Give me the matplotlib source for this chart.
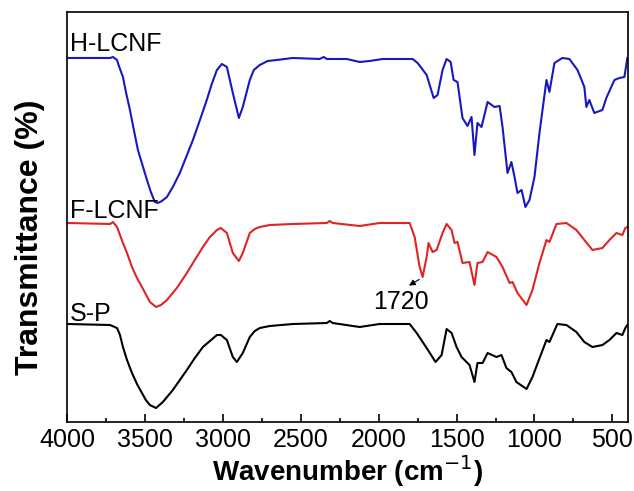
' FTIR spectra of S-P, F-LCNF and H-LCNF, stacked with offsets '
import matplotlib
matplotlib.use('Agg')
import matplotlib.pyplot as plt
from matplotlib.ticker import MultipleLocator

plt.rcParams['font.family'] = ['Liberation Sans', 'DejaVu Sans']

# wavenumber (cm-1) and transmittance (a.u., offset per curve)
wn_h = [3994, 3724, 3705, 3679, 3667, 3641, 3622, 3596, 3571, 3545, 3487, 3462, 3436, 3417,
        3391, 3359, 3321, 3276, 3192, 3147, 3103, 3071, 3038, 3006, 2974, 2936, 2897, 2872,
        2827, 2801, 2763, 2712, 2654, 2551, 2378, 2353, 2333, 2205, 2122, 2058, 1974, 1782,
        1750, 1692, 1647, 1622, 1590, 1564, 1538, 1519, 1494, 1462, 1430, 1404, 1385, 1366,
        1340, 1301, 1257, 1224, 1205, 1173, 1148, 1128, 1109, 1083, 1058, 1032, 1000, 968,
        923, 904, 872, 821, 776, 724, 680, 667, 648, 616, 564, 539, 487, 455, 423, 404]
t_h = [364, 364, 365, 362, 356, 345, 330, 312, 292, 272, 242, 230, 220, 219,
       221, 225, 235, 249, 282, 302, 322, 338, 352, 358, 355, 329, 304, 315,
       342, 352, 357, 361, 362, 364, 363, 365, 363, 363, 360, 361, 363, 363,
       359, 347, 324, 327, 352, 363, 360, 342, 340, 304, 296, 305, 267, 299,
       295, 320, 315, 316, 295, 249, 260, 245, 229, 232, 215, 222, 245, 289,
       342, 330, 359, 364, 363, 352, 335, 315, 322, 309, 312, 324, 342, 344, 345, 364]

wn_f = [3994, 3724, 3705, 3679, 3667, 3641, 3615, 3583, 3551, 3519, 3468, 3429, 3397, 3359,
        3295, 3231, 3180, 3128, 3083, 3038, 3013, 2974, 2936, 2897, 2872, 2827, 2795, 2763,
        2699, 2551, 2333, 2314, 2295, 2122, 1994, 1801, 1769, 1737, 1718, 1692, 1680, 1654,
        1628, 1590, 1564, 1532, 1513, 1494, 1462, 1417, 1385, 1366, 1333, 1301, 1244, 1205,
        1160, 1141, 1109, 1051, 1013, 968, 923, 904, 859, 795, 731, 680, 628, 564, 519, 474,
        436, 417, 404]
t_f = [199, 198, 200, 195, 190, 179, 169, 155, 144, 135, 120, 115, 117, 122,
       134, 149, 162, 175, 185, 192, 194, 189, 169, 161, 169, 189, 193, 195,
       197, 198, 199, 201, 199, 196, 199, 199, 185, 155, 145, 165, 179, 170,
       172, 189, 198, 192, 179, 180, 159, 160, 137, 159, 160, 170, 165, 155,
       139, 140, 129, 117, 132, 159, 182, 180, 198, 199, 192, 182, 172, 174, 182, 189,
       187, 194, 195]

wn_s = [3994, 3724, 3679, 3660, 3641, 3615, 3583, 3551, 3519, 3494, 3468, 3429, 3385, 3321,
        3231, 3180, 3128, 3083, 3038, 3013, 2974, 2936, 2910, 2872, 2827, 2795, 2763, 2699,
        2551, 2333, 2314, 2295, 2122, 1994, 1801, 1756, 1692, 1635, 1596, 1564, 1532, 1500,
        1468, 1417, 1385, 1366, 1333, 1301, 1244, 1212, 1180, 1148, 1116, 1051, 1013, 955,
        923, 904, 853, 795, 731, 680, 628, 564, 519, 474, 436, 417, 404]
t_s = [98, 97, 94, 87, 75, 62, 49, 38, 29, 22, 17, 14, 20, 32,
       52, 64, 75, 81, 87, 87, 82, 65, 60, 69, 85, 91, 94, 96,
       98, 99, 101, 99, 95, 98, 98, 89, 74, 60, 67, 93, 89, 75,
       65, 57, 40, 59, 59, 69, 65, 67, 54, 50, 40, 33, 45, 69,
       82, 80, 98, 97, 90, 80, 75, 77, 82, 89, 87, 94, 97]

fig = plt.figure(figsize=(6.34, 4.91), dpi=100)
ax = fig.add_axes([0.1057, 0.1405, 0.8848, 0.8351])

ax.plot(wn_h, t_h, color='#1818c0', lw=1.5)
ax.plot(wn_f, t_f, color='#e02424', lw=1.5)
ax.plot(wn_s, t_s, color='black', lw=1.5)

# curve labels
ax.text(3980, 371, 'H-LCNF', fontsize=18, ha='left', va='baseline')
ax.text(3980, 204, 'F-LCNF', fontsize=18, ha='left', va='baseline')
ax.text(3980, 101, 'S-P', fontsize=18, ha='left', va='baseline')

# carbonyl peak marker
ax.annotate('', xy=(1821, 135), xytext=(1724, 144),
            arrowprops=dict(arrowstyle='-|>', color='black', lw=0.8, mutation_scale=9))
ax.text(1859, 120, '1720', fontsize=18, ha='center', va='center')

ax.set_xlim(4000, 400)
ax.set_ylim(0, 410)
ax.xaxis.set_major_locator(MultipleLocator(500))
ax.xaxis.set_minor_locator(MultipleLocator(250))
ax.set_yticks([])
ax.tick_params(axis='x', which='major', direction='in', length=6, width=1.2, labelsize=18, pad=4)
ax.tick_params(axis='x', which='minor', direction='in', length=3, width=1.2)
for s in ax.spines.values():
    s.set_linewidth(1.2)

ax.set_xlabel('Wavenumber (cm$^{-1}$)', fontsize=20, fontweight='bold', labelpad=1)
ax.set_ylabel('Transmittance (%)', fontsize=23, fontweight='bold')
ax.yaxis.set_label_coords(-0.04, 0.45)

fig.savefig('out.png', dpi=100)
